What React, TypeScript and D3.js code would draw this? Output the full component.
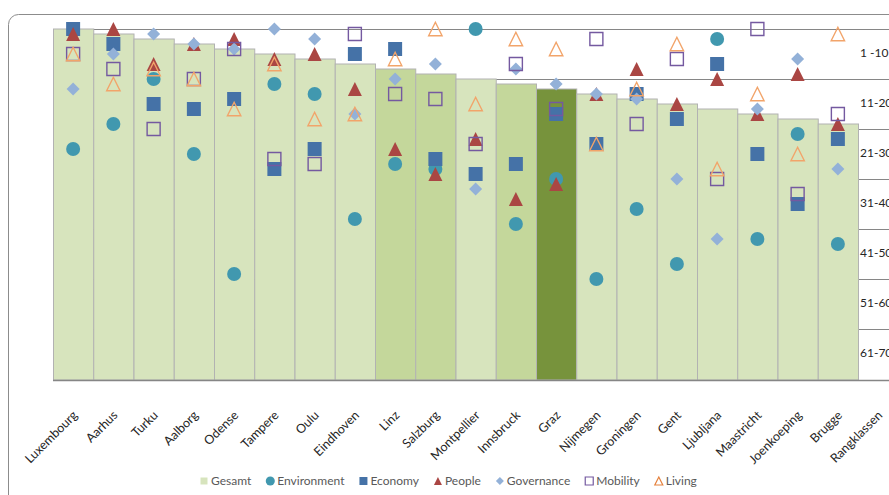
import React, { useEffect, useRef } from "react";
import * as d3 from "d3";

const cities = [
  "Luxembourg", "Aarhus", "Turku", "Aalborg", "Odense", "Tampere", "Oulu", "Eindhoven",
  "Linz", "Salzburg", "Montpellier", "Innsbruck", "Graz", "Nijmegen", "Groningen", "Gent",
  "Ljubljana", "Maastricht", "Joenkoeping", "Brugge", "Rangklassen",
];
const gesamt = [1, 2, 3, 4, 5, 6, 7, 8, 9, 10, 11, 12, 13, 14, 15, 16, 17, 18, 19, 20];
const environment = [25, 20, 11, 26, 50, 12, 14, 39, 28, 29, 1, 40, 31, 51, 37, 48, 3, 43, 22, 44];
const economy = [1, 4, 16, 17, 15, 29, 25, 6, 5, 27, 30, 28, 18, 24, 14, 19, 8, 26, 36, 23];
const people = [2, 1, 8, 4, 3, 7, 6, 13, 25, 30, 23, 35, 32, 14, 9, 16, 11, 18, 10, 20];
const governance = [13, 6, 2, 4, 5, 1, 3, 18, 11, 8, 33, 9, 12, 14, 15, 31, 43, 17, 7, 29];
const mobility = [6, 9, 21, 11, 5, 27, 28, 2, 14, 15, 24, 8, 17, 3, 20, 7, 31, 1, 34, 18];
const living = [6, 12, 9, 11, 17, 8, 19, 18, 7, 1, 16, 3, 5, 24, 13, 4, 29, 14, 26, 2];
const rankClasses = ["1 -10", "11-20", "21-30", "31-40", "41-50", "51-60", "61-70"];
const austrianCities = ["Linz", "Salzburg", "Innsbruck"];
const focusCity = "Graz";

const triangleType = {
  draw(ctx: any, size: number) {
    const r = Math.sqrt(size) / 2;
    ctx.moveTo(0, -r);
    ctx.lineTo(r, r);
    ctx.lineTo(-r, r);
    ctx.closePath();
  },
};
const diamondType = {
  draw(ctx: any, size: number) {
    const r = Math.sqrt(size) / 2;
    ctx.moveTo(0, -r);
    ctx.lineTo(r, 0);
    ctx.lineTo(0, r);
    ctx.lineTo(-r, 0);
    ctx.closePath();
  },
};

const FONT = "Lato, 'Liberation Sans', sans-serif";

export default function App() {
  const ref = useRef<SVGSVGElement>(null);

  useEffect(() => {
    const svg = d3.select(ref.current);
    svg.selectAll("*").remove();
    const W = 889, H = 495;
    const left = 53, bw = 40.25, axisY = 380;

    const x = d3.scaleBand<string>().domain(cities).range([left, left + bw * cities.length]).padding(0);
    const y = d3.scaleLinear().domain([1, 71]).range([29, 379]);

    svg.append("rect").attr("width", W).attr("height", H).attr("fill", "#fff");
    // frame
    svg.append("rect").attr("x", 8.5).attr("y", 14.5).attr("width", 1000).attr("height", 1000)
      .attr("rx", 10).attr("fill", "none").attr("stroke", "#8c8c8c").attr("stroke-width", 1);

    // gridlines (rank class boundaries)
    const bounds = d3.range(rankClasses.length).map((i) => 1 + i * 10);
    svg.append("g").selectAll("line").data(bounds).join("line")
      .attr("x1", left).attr("x2", W)
      .attr("y1", (d) => Math.round(y(d)) + 0.5).attr("y2", (d) => Math.round(y(d)) + 0.5)
      .attr("stroke", "#868686").attr("stroke-width", 1);

    // bars
    const barData = gesamt.map((v, i) => ({ city: cities[i], v }));
    svg.append("g").selectAll("rect").data(barData).join("rect")
      .attr("x", (d) => x(d.city)! + 0.5)
      .attr("y", (d) => y(d.v))
      .attr("width", x.bandwidth())
      .attr("height", (d) => axisY - y(d.v))
      .attr("fill", (d) => d.city === focusCity ? "#77933c" : austrianCities.includes(d.city) ? "#c4d79b" : "#d7e4bd")
      .attr("stroke", "#b2b2b2").attr("stroke-width", 1);

    // axis line
    svg.append("line").attr("x1", left).attr("x2", W).attr("y1", axisY + 0.5).attr("y2", axisY + 0.5)
      .attr("stroke", "#868686").attr("stroke-width", 1.3);

    // series markers
    const series = [
      { name: "Environment", values: environment, type: d3.symbolCircle, size: Math.PI * 49, fill: "#4198af", stroke: "none" },
      { name: "Economy", values: economy, type: d3.symbolSquare, size: 196, fill: "#4572a7", stroke: "none" },
      { name: "People", values: people, type: triangleType, size: 196, fill: "#aa4643", stroke: "none" },
      { name: "Governance", values: governance, type: diamondType, size: 169, fill: "#93b1d8", stroke: "none" },
      { name: "Mobility", values: mobility, type: d3.symbolSquare, size: 169, fill: "none", stroke: "#7459a0" },
      { name: "Living", values: living, type: triangleType, size: 180, fill: "none", stroke: "#f2a46a" },
    ];
    series.forEach((s) => {
      const sym = d3.symbol().type(s.type as any).size(s.size);
      svg.append("g").selectAll("path").data(s.values).join("path")
        .attr("transform", (d, i) => `translate(${x(cities[i])! + x.bandwidth() / 2},${y(d)})`)
        .attr("d", sym() as string)
        .attr("fill", s.fill).attr("stroke", s.stroke).attr("stroke-width", 1.4);
    });

    // rank class labels
    svg.append("g").selectAll("text").data(rankClasses).join("text")
      .attr("x", x("Rangklassen")! + 2)
      .attr("y", (d, i) => y(1 + i * 10 + 5) - 1)
      .attr("dy", "0.35em")
      .attr("font-family", FONT).attr("font-size", 12).attr("fill", "#262626")
      .text((d) => d);

    // x labels
    svg.append("g").selectAll("text").data(cities).join("text")
      .attr("transform", (d) => `translate(${x(d)! + x.bandwidth() / 2 + 5},${axisY + 36}) rotate(-45)`)
      .attr("text-anchor", "end")
      .attr("font-family", FONT).attr("font-size", 12.5).attr("fill", "#262626")
      .text((d) => d);

    // legend
    const legendItems = [
      { name: "Gesamt", type: d3.symbolSquare, size: 49, fill: "#d7e4bd", stroke: "none" },
      ...series.map((s) => ({ name: s.name, type: s.type, size: 64, fill: s.fill, stroke: s.stroke === "#f2a46a" ? "#e5813d" : s.stroke })),
    ];
    const lg = svg.append("g");
    let cx = 204;
    const ly = 481;
    legendItems.forEach((it) => {
      const sym = d3.symbol().type(it.type as any).size(it.size);
      lg.append("path").attr("transform", `translate(${cx},${ly})`).attr("d", sym() as string)
        .attr("fill", it.fill).attr("stroke", it.stroke).attr("stroke-width", 1.2);
      const t = lg.append("text").attr("x", cx + 7).attr("y", ly).attr("dy", "0.35em")
        .attr("font-family", FONT).attr("font-size", 12).attr("fill", "#595959").text(it.name);
      const w = (t.node() as SVGTextElement).getComputedTextLength();
      cx = cx + 7 + w + 19;
    });
  }, []);

  return (
    <div style={{ position: "absolute", left: 0, top: 0 }}>
      <svg ref={ref} width={889} height={495} style={{ display: "block" }} />
    </div>
  );
}
